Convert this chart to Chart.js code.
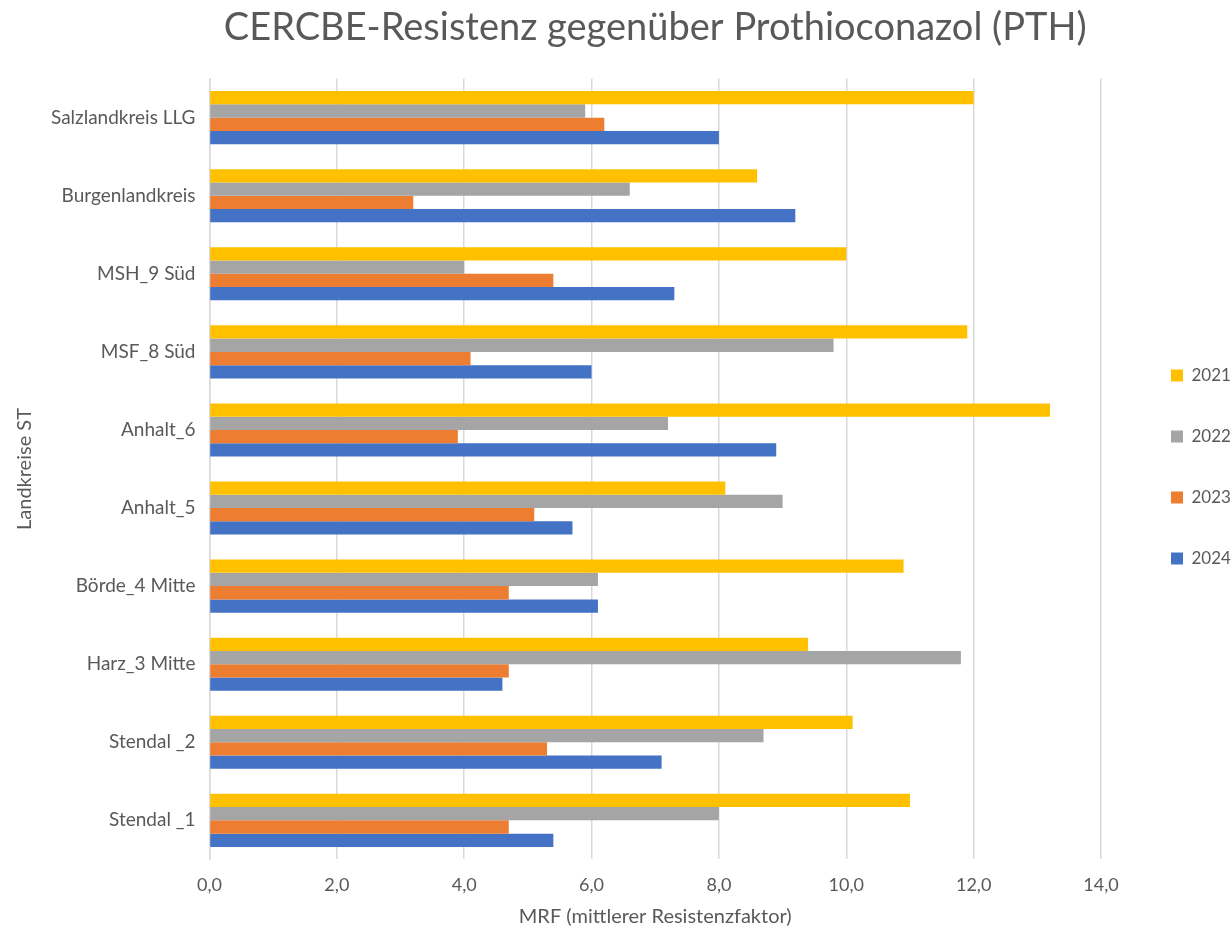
<!DOCTYPE html>
<html>
<head>
<meta charset="utf-8">
<script src="https://cdn.jsdelivr.net/npm/chart.js@4/dist/chart.umd.min.js"></script>
<style>
  html, body { margin: 0; padding: 0; background: #fff; }
  #wrap { width: 1232px; height: 933px; }
</style>
</head>
<body>
<div id="wrap"><canvas id="chart" width="1232" height="933"></canvas></div>
<script>
const categories = ['Salzlandkreis LLG', 'Burgenlandkreis', 'MSH_9 Süd', 'MSF_8 Süd', 'Anhalt_6',
  'Anhalt_5', 'Börde_4 Mitte', 'Harz_3 Mitte', 'Stendal _2', 'Stendal _1'];
const years = ['2021', '2022', '2023', '2024'];
const values2021 = [12.0, 8.6, 10.0, 11.9, 13.2, 8.1, 10.9, 9.4, 10.1, 11.0];
const values2022 = [5.9, 6.6, 4.0, 9.8, 7.2, 9.0, 6.1, 11.8, 8.7, 8.0];
const values2023 = [6.2, 3.2, 5.4, 4.1, 3.9, 5.1, 4.7, 4.7, 5.3, 4.7];
const values2024 = [8.0, 9.2, 7.3, 6.0, 8.9, 5.7, 6.1, 4.6, 7.1, 5.4];
const xTickLabels = ['0,0', '2,0', '4,0', '6,0', '8,0', '10,0', '12,0', '14,0'];
const colors = ['#FFC000', '#A5A5A5', '#ED7D31', '#4472C4'];

const font = 'Lato, "Open Sans", sans-serif';
const grey = '#595959';

// wider legend column, entries pushed away from the plot like in the original
const legendWidth = 131;
const legendShift = 26;
const legendTweak = {
  id: 'legendTweak',
  beforeUpdate(chart) {
    const lg = chart.legend;
    if (!lg || lg._tweaked) return;
    const origFit = lg.fit;
    lg.fit = function () {
      origFit.call(this);
      this.width = Math.max(this.width, legendWidth);
    };
    const origDraw = lg._draw;
    lg._draw = function () {
      this.left += legendShift;
      origDraw.call(this);
      this.left -= legendShift;
    };
    lg._tweaked = true;
  }
};

const ctx = document.getElementById('chart').getContext('2d');
new Chart(ctx, {
  type: 'bar',
  data: {
    labels: categories,
    datasets: [values2021, values2022, values2023, values2024].map(function (vals, i) {
      return {
        label: years[i],
        data: vals,
        backgroundColor: colors[i],
        categoryPercentage: 0.68,
        barPercentage: 1.0
      };
    })
  },
  options: {
    indexAxis: 'y',
    responsive: false,
    animation: false,
    layout: { padding: { top: 5, left: 9, right: 0, bottom: 4 } },
    plugins: {
      title: {
        display: true,
        text: 'CERCBE-Resistenz gegenüber Prothioconazol (PTH)',
        color: grey,
        fullSize: false,
        font: { family: font, size: 38, weight: 'normal' },
        padding: { top: 0, bottom: 28 }
      },
      legend: {
        position: 'right',
        labels: {
          color: grey,
          font: { family: font, size: 17 },
          boxWidth: 12,
          boxHeight: 12,
          padding: 44
        }
      },
      tooltip: { enabled: false }
    },
    scales: {
      x: {
        min: 0,
        max: 14,
        ticks: {
          stepSize: 2,
          color: grey,
          font: { family: font, size: 18 },
          padding: 15,
          callback: function (v) { return xTickLabels[Math.round(v / 2)]; }
        },
        grid: { color: '#D9D9D9', lineWidth: 1.5, drawTicks: false },
        border: { display: false },
        title: {
          display: true,
          text: 'MRF (mittlerer Resistenzfaktor)',
          color: grey,
          font: { family: font, size: 20 },
          padding: { top: -6, bottom: 0 }
        }
      },
      y: {
        ticks: {
          color: grey,
          font: { family: font, size: 19 },
          padding: 14
        },
        grid: { display: false, drawTicks: false },
        border: { display: true, color: '#D9D9D9', width: 1.5 },
        title: {
          display: true,
          text: 'Landkreise ST',
          color: grey,
          font: { family: font, size: 20 },
          padding: { top: 4, bottom: 0 }
        }
      }
    }
  },
  plugins: [legendTweak]
});
</script>
</body>
</html>
